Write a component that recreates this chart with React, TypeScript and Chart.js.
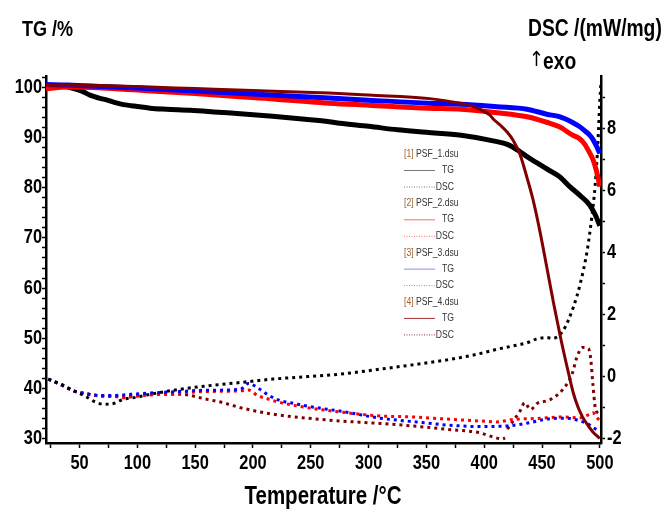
import React, { useEffect, useRef } from "react";
import { Chart, registerables } from "chart.js";
Chart.register(...registerables);

const FONT = "'Liberation Sans', Arial, sans-serif";
const NARROW = 0.82; // horizontal compression to mimic Arial Narrow

// ---------- data ----------
const sampleNames = ["PSF_1.dsu", "PSF_2.dsu", "PSF_3.dsu", "PSF_4.dsu"];
const tgColors = ["#000000", "#ff0000", "#0000ff", "#800000"];
const legendColors = ["#7a7a7a", "#ff6a6a", "#8a8aff", "#a03030"];

// TG /% (left axis)
const tg1T = [21, 28, 36, 45, 52, 59, 67, 74, 81, 88, 95, 102, 111, 125, 146, 170, 189, 217, 245, 266, 275, 300, 325, 350, 380, 410, 420, 430, 436, 445, 455, 465, 474, 483, 491, 496, 500];
const tg1V = [99.9, 100.1, 100.1, 99.7, 99.2, 98.4, 97.8, 97.4, 96.9, 96.5, 96.3, 96.1, 95.8, 95.6, 95.4, 95.0, 94.7, 94.2, 93.6, 93.1, 92.8, 92.2, 91.5, 91.0, 90.4, 89.2, 88.6, 87.3, 86.3, 85.0, 83.6, 82.2, 80.2, 78.4, 76.6, 74.6, 72.4];

const tg2T = [21, 40, 70, 100, 150, 200, 266, 300, 352, 380, 411, 437, 454, 465, 476, 482, 487, 491, 494, 497, 500];
const tg2V = [99.7, 100.0, 99.8, 99.4, 98.7, 97.9, 96.8, 96.4, 95.8, 95.6, 94.9, 94.1, 93.0, 92.1, 90.5, 89.8, 88.6, 87.0, 85.6, 83.4, 80.2];

const tg3T = [21, 40, 70, 100, 150, 200, 266, 300, 352, 380, 411, 437, 454, 465, 476, 482, 487, 491, 494, 497, 500];
const tg3V = [100.5, 100.4, 100.1, 99.8, 99.2, 98.6, 97.8, 97.4, 96.8, 96.6, 96.1, 95.6, 94.6, 94.1, 93.0, 92.2, 91.3, 90.5, 89.6, 88.3, 86.8];

const tg4T = [21, 40, 70, 100, 150, 200, 266, 300, 353, 379, 388, 397, 405, 408, 414, 420, 425, 431, 434, 437, 442, 448, 454, 460, 466, 472, 477, 481, 485, 490, 494, 500];
const tg4V = [100.3, 100.4, 100.3, 100.1, 99.7, 99.3, 98.8, 98.4, 97.7, 96.8, 96.3, 95.5, 94.4, 93.6, 92.4, 91.0, 89.4, 86.6, 84.4, 82.0, 77.8, 71.5, 64.3, 57.0, 50.2, 44.0, 39.2, 36.4, 34.4, 32.6, 31.4, 30.1];

// DSC /(mW/mg) (right axis)
const dsc1T = [23, 35, 45, 55, 63, 71, 80, 88, 100, 111, 131, 160, 189, 217, 247, 275, 310, 340, 368, 379, 396, 411, 425, 437, 445, 454, 459, 468, 477, 483, 489, 493, 496, 498.4, 500, 501];
const dsc1V = [-0.07, -0.25, -0.45, -0.62, -0.8, -0.88, -0.85, -0.72, -0.65, -0.56, -0.43, -0.29, -0.18, -0.07, 0.01, 0.09, 0.25, 0.4, 0.55, 0.62, 0.75, 0.89, 1.0, 1.1, 1.22, 1.27, 1.24, 1.48, 2.24, 3.0, 4.06, 5.14, 6.2, 7.6, 8.9, 9.5];

const dsc2T = [23, 35, 45, 57, 68, 80, 88, 100, 111, 131, 160, 189, 196, 204, 214, 224, 236, 247, 260, 275, 310, 338, 368, 396, 411, 425, 445, 468, 483, 490, 494, 497, 500];
const dsc2V = [-0.07, -0.27, -0.45, -0.55, -0.61, -0.63, -0.67, -0.62, -0.58, -0.53, -0.47, -0.45, -0.42, -0.6, -0.72, -0.83, -0.92, -0.99, -1.06, -1.13, -1.26, -1.29, -1.36, -1.42, -1.45, -1.37, -1.34, -1.29, -1.32, -1.22, -1.15, -1.3, -1.4];

const dsc3T = [23, 35, 45, 57, 68, 80, 88, 102, 131, 160, 189, 196, 206, 214, 224, 236, 247, 260, 275, 310, 338, 368, 396, 420, 440, 454, 471, 483, 490, 494, 500];
const dsc3V = [-0.07, -0.27, -0.45, -0.55, -0.6, -0.6, -0.58, -0.54, -0.48, -0.43, -0.4, -0.21, -0.4, -0.6, -0.77, -0.86, -0.94, -1.02, -1.1, -1.33, -1.44, -1.55, -1.6, -1.58, -1.47, -1.36, -1.33, -1.42, -1.52, -1.63, -1.74];

const dsc4T = [23, 35, 45, 57, 68, 80, 90, 111, 137, 160, 174, 189, 217, 247, 275, 310, 338, 368, 396, 408, 416, 418, 419, 420, 425, 431, 435, 440, 446, 454, 460, 468, 476, 480, 485, 490, 492, 494, 496, 498, 501];
const dsc4V: (number | null)[] = [-0.07, -0.27, -0.45, -0.55, -0.62, -0.63, -0.62, -0.56, -0.56, -0.72, -0.83, -0.99, -1.2, -1.33, -1.42, -1.5, -1.58, -1.69, -1.8, -1.94, -2.0, -1.96, null, -1.68, -1.42, -1.1, -0.83, -1.05, -0.85, -0.77, -0.67, -0.4, 0.09, 0.62, 0.95, 0.92, 0.62, -0.24, -0.99, -1.15, -1.2];

// axes
const xMin = 21, xMax = 501, xStep = 25, xLabelStep = 50;
const tgMin = 29.2, tgMax = 102.2, tgStep = 2, tgLabelStep = 10;
const dscMin = -2.13, dscMax = 9.7, dscStep = 1, dscLabelStep = 2;

function pts(t: number[], v: (number | null)[]) {
  return t.map((x, i) => ({ x, y: v[i] }));
}

const isMult = (v: number, m: number) => Math.abs(v / m - Math.round(v / m)) < 1e-6;

function narrowText(
  ctx: CanvasRenderingContext2D,
  text: string,
  x: number,
  y: number,
  align: CanvasTextAlign,
  font: string,
  sx: number = NARROW
) {
  ctx.save();
  ctx.translate(x, y);
  ctx.scale(sx, 1);
  ctx.font = font;
  ctx.textAlign = align;
  ctx.textBaseline = "middle";
  ctx.fillText(text, 0, 0);
  ctx.restore();
}

export default function App() {
  const ref = useRef<HTMLCanvasElement>(null);
  useEffect(() => {
    if (!ref.current) return;

    const overlay = {
      id: "overlay",
      afterDraw(chart: any) {
        const ctx = chart.ctx as CanvasRenderingContext2D;
        const tickFont = `bold 20px ${FONT}`;
        ctx.save();
        ctx.fillStyle = "#000";

        // tick labels from the library's scales
        const sx = chart.scales.x;
        for (const t of sx.ticks) {
          if (!isMult(t.value, xLabelStep)) continue;
          narrowText(ctx, String(Math.round(t.value)), sx.getPixelForValue(t.value), 463, "center", tickFont);
        }
        const sl = chart.scales.yTG;
        for (const t of sl.ticks) {
          if (!isMult(t.value, tgLabelStep)) continue;
          narrowText(ctx, String(Math.round(t.value)), 42, sl.getPixelForValue(t.value), "right", tickFont);
        }
        const sr = chart.scales.yDSC;
        for (const t of sr.ticks) {
          if (!isMult(t.value, dscLabelStep)) continue;
          narrowText(ctx, String(Math.round(t.value)), 607, sr.getPixelForValue(t.value), "left", tickFont);
        }

        // titles
        narrowText(ctx, "TG /%", 22, 30, "left", `bold 22px ${FONT}`);
        narrowText(ctx, "DSC /(mW/mg)", 528, 30, "left", `bold 23.5px ${FONT}`);
        narrowText(ctx, "exo", 543, 63, "left", `bold 23.5px ${FONT}`);
        narrowText(ctx, "\u2191", 529, 61, "left", `21px 'DejaVu Sans', sans-serif`, 0.85);
        narrowText(ctx, "Temperature /\u00b0C", 323, 497, "center", `bold 25px ${FONT}`);

        // legend
        const lx0 = 404, lx1 = 435, rx = 454;
        const legFont = `11.5px ${FONT}`;
        for (let i = 0; i < 4; i++) {
          const y0 = 154 + i * 49.3;
          const tag = `[${i + 1}]`;
          ctx.fillStyle = "#a0622d";
          narrowText(ctx, tag, lx0, y0, "left", legFont, 0.75);
          ctx.font = legFont;
          const w = ctx.measureText(tag + " ").width * 0.75;
          ctx.fillStyle = "#333";
          narrowText(ctx, sampleNames[i], lx0 + w, y0, "left", legFont, 0.75);
          narrowText(ctx, "TG", rx, y0 + 16, "right", legFont, 0.75);
          narrowText(ctx, "DSC", rx, y0 + 32.5, "right", legFont, 0.75);
          ctx.strokeStyle = legendColors[i];
          ctx.lineWidth = 1;
          ctx.setLineDash([]);
          ctx.beginPath();
          ctx.moveTo(lx0, y0 + 16.5);
          ctx.lineTo(lx1, y0 + 16.5);
          ctx.stroke();
          ctx.setLineDash([1, 1.5]);
          ctx.beginPath();
          ctx.moveTo(lx0, y0 + 33);
          ctx.lineTo(lx1 + 1, y0 + 33);
          ctx.stroke();
          ctx.setLineDash([]);
        }
        ctx.restore();
      },
    };

    const tgDs = (label: string, t: number[], v: number[], i: number, w: number) => ({
      label,
      data: pts(t, v),
      yAxisID: "yTG",
      borderColor: tgColors[i],
      borderWidth: w,
      pointRadius: 0,
      cubicInterpolationMode: "monotone" as const,
      fill: false,
    });
    const dscDs = (label: string, t: number[], v: (number | null)[], i: number) => ({
      label,
      data: pts(t, v),
      yAxisID: "yDSC",
      borderColor: tgColors[i],
      borderWidth: 3,
      borderDash: [3, 4],
      borderCapStyle: "butt" as const,
      pointRadius: 0,
      cubicInterpolationMode: "monotone" as const,
      spanGaps: false,
      fill: false,
    });

    const axisCommon = (step: number) => ({
      stepSize: step,
      autoSkip: false,
      includeBounds: false,
      maxTicksLimit: 1000,
      display: false,
    });
    const gridCommon = (len: number) => ({
      drawOnChartArea: false,
      drawTicks: true,
      tickLength: len,
      tickColor: "#000",
      tickWidth: 1.5,
    });
    const borderCommon = { display: true, color: "#000", width: 2.5 };

    const chart = new Chart(ref.current, {
      type: "line",
      data: {
        datasets: [
          tgDs("TG4", tg4T, tg4V, 3, 3),
          tgDs("TG3", tg3T, tg3V, 2, 5),
          tgDs("TG2", tg2T, tg2V, 1, 5),
          tgDs("TG1", tg1T, tg1V, 0, 5),
          dscDs("DSC1", dsc1T, dsc1V, 0),
          dscDs("DSC3", dsc3T, dsc3V, 2),
          dscDs("DSC2", dsc2T, dsc2V, 1),
          dscDs("DSC4", dsc4T, dsc4V, 3),
        ] as any,
      },
      options: {
        responsive: false,
        animation: false,
        devicePixelRatio: 1,
        layout: { padding: { top: 76, left: 0, right: 0, bottom: 0 } },
        plugins: { legend: { display: false }, tooltip: { enabled: false }, title: { display: false } },
        scales: {
          x: {
            type: "linear",
            position: "bottom",
            min: xMin,
            max: xMax,
            afterFit: (s: any) => { s.height = 73; },
            ticks: axisCommon(xStep),
            grid: gridCommon(5),
            border: borderCommon,
          },
          yTG: {
            type: "linear",
            position: "left",
            min: tgMin,
            max: tgMax,
            afterFit: (s: any) => { s.width = 46; },
            ticks: axisCommon(tgStep),
            grid: gridCommon(4),
            border: borderCommon,
          },
          yDSC: {
            type: "linear",
            position: "right",
            min: dscMin,
            max: dscMax,
            afterFit: (s: any) => { s.width = 63; },
            ticks: axisCommon(dscStep),
            grid: gridCommon(4),
            border: borderCommon,
          },
        },
      } as any,
      plugins: [overlay],
    });
    return () => chart.destroy();
  }, []);

  return (
    <div style={{ position: "absolute", left: 0, top: 0, width: 664, height: 516, background: "#fff" }}>
      <canvas ref={ref} width={664} height={516} style={{ width: 664, height: 516, display: "block" }} />
    </div>
  );
}
